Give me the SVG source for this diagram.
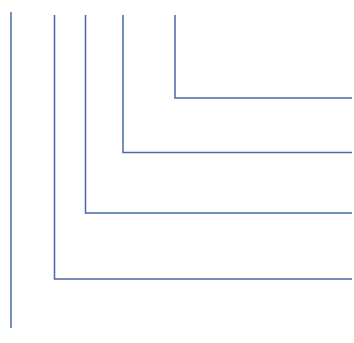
<svg xmlns="http://www.w3.org/2000/svg" width="354" height="343" viewBox="0 0 354 343">
<style>.c{fill:none;stroke:#4a68a8;stroke-width:1.5}</style>
<rect width="354" height="343" fill="#fff"/>
<g id="connectors">
<path class="c" d="M11 12V328"/>
<path class="c" d="M54.5 15V279H352"/>
<path class="c" d="M85.5 15V213H352"/>
<path class="c" d="M123 15V152.5H352"/>
<path class="c" d="M175 15V98H352"/>
</g>
</svg>
